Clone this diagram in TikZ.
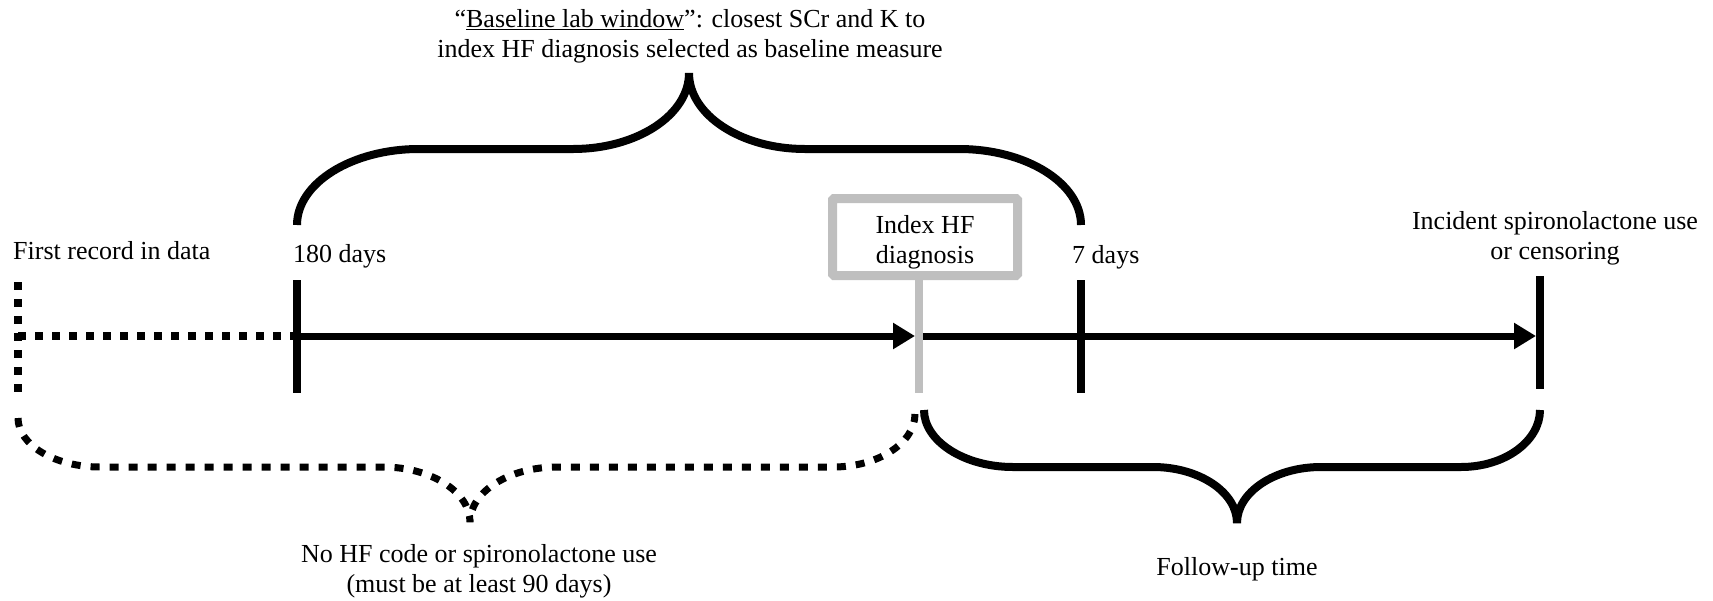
\documentclass[tikz,border=0pt]{standalone}
\usepackage{fontspec}
\setmainfont{Liberation Serif}
\usetikzlibrary{arrows.meta}
\definecolor{boxgray}{RGB}{191,191,191}
\begin{document}
\begin{tikzpicture}[x=1pt,y=-1pt,
  lbl/.style={font=\fontsize{26}{30}\selectfont, inner sep=0pt},
  mlbl/.style={lbl, align=center, anchor=north},
  axis/.style={line width=7pt, -{Triangle[length=22pt,width=25pt]}},
  tickmark/.style={line width=8pt},
  dotline/.style={line width=8pt, dash pattern=on 8pt off 9pt},
  bracesolid/.style={line width=8pt},
  bracedot/.style={line width=7pt, dash pattern=on 9pt off 10pt},
  hfline/.style={line width=8pt, draw=boxgray},
  hfboxstyle/.style={draw=boxgray, line width=9pt, rounded corners=1.5pt, minimum width=185pt, minimum height=77pt, inner sep=0pt}]
\useasboundingbox (0,0) rectangle (1713,600);

% timeline points
\coordinate (first) at (18,336);
\coordinate (d180) at (297,336);
\coordinate (hf) at (919,336);
\coordinate (d7) at (1081,336);
\coordinate (fin) at (1540,336);
\coordinate (ticktop) at (0,280);
\coordinate (tickbot) at (0,393);
\coordinate (fintop) at (0,276);
\coordinate (finbot) at (0,389);
\coordinate (firsttop) at (0,282);

% timeline
\draw[dotline] (first) -- (d180);
\draw[dotline] (first |- firsttop) -- (first |- tickbot);
\draw[axis] (d180) -- ([xshift=-4pt]hf);
\draw[axis] ([xshift=4pt]hf) -- ([xshift=-4pt]fin);
\draw[tickmark] (d180 |- ticktop) -- (d180 |- tickbot);
\draw[tickmark] (d7 |- ticktop) -- (d7 |- tickbot);
\draw[tickmark] (fin |- fintop) -- (fin |- finbot);

% index HF box
\node[hfboxstyle] (hfbox) at (925,237) {};
\draw[hfline] (hfbox.south -| hf) -- (hf |- tickbot);
\node[mlbl] (hftext) at (925,212) {\strut Index HF\\\strut diagnosis};

% labels
\node[lbl, anchor=base west] (lfirst) at (13,259) {First record in data};
\node[lbl, anchor=base west] (l180) at (293,262) {180 days};
\node[lbl, anchor=base west] (l7) at (1072,263) {7 days};
\node[mlbl] (lend) at (1555,208) {\strut Incident spironolactone use\\\strut or censoring};
\node[mlbl] (ltop) at (690,6) {\strut “\underline{Baseline lab window}”: closest SCr and K to\\\strut index HF diagnosis selected as baseline measure};
\node[mlbl] (lnohf) at (479,541) {\strut No HF code or spironolactone use\\\strut (must be at least 90 days)};
\node[lbl, anchor=base] (lfu) at (1237,575) {Follow-up time};

% top brace (baseline lab window)
\draw[bracesolid] (297,225) .. controls (297,183) and (352,149) .. (419,149) -- (573,149)
  .. controls (637,149) and (689,115) .. (689,73)
  .. controls (689,115) and (741,149) .. (805,149) -- (959,149)
  .. controls (1026,149) and (1081,183) .. (1081,225);

% dotted brace (washout)
\draw[bracedot] (18,418) .. controls (18,445) and (55,467) .. (100,467) -- (383,467)
  .. controls (431,467) and (470,492) .. (470,522)
  .. controls (470,492) and (509,467) .. (557,467) -- (833,467)
  .. controls (878,467) and (915,443) .. (915,414);

% follow-up brace
\draw[bracesolid] (924,410) .. controls (924,441) and (964,467) .. (1013,467) -- (1153,467)
  .. controls (1199,467) and (1237,492) .. (1237,523)
  .. controls (1237,492) and (1275,467) .. (1321,467) -- (1461,467)
  .. controls (1505,467) and (1540,441) .. (1540,410);
\end{tikzpicture}
\end{document}
